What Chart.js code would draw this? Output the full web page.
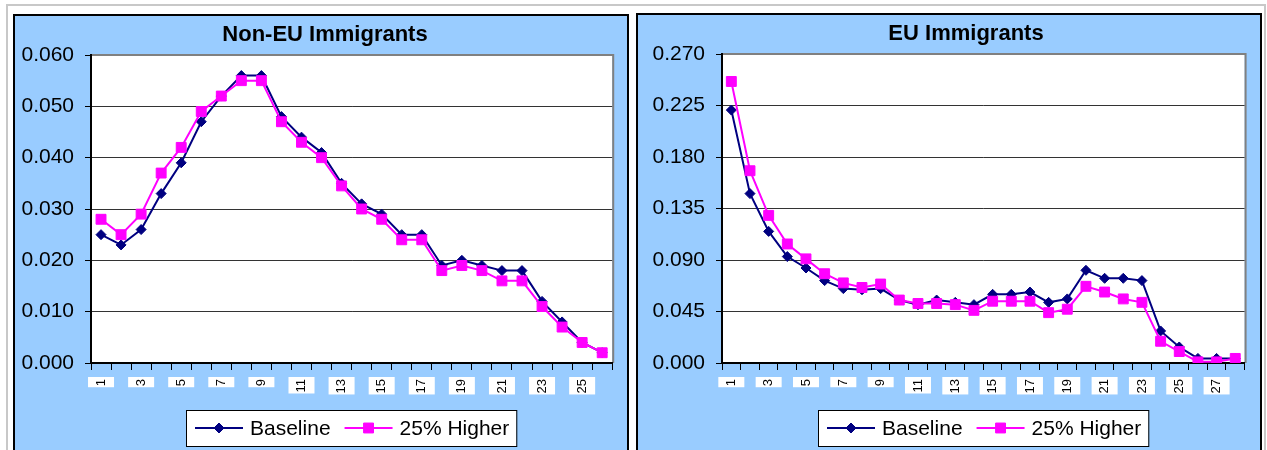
<!DOCTYPE html>
<html lang="en">
<head>
<meta charset="UTF-8" />
<title>Non-EU and EU Immigrants</title>
<script src="https://cdn.jsdelivr.net/npm/chart.js@4.4.1/dist/chart.umd.min.js"></script>
<style>
  html, body { margin: 0; padding: 0; background: #fff; overflow: hidden; }
  body { width: 1267px; height: 450px; position: relative; }
  .frame { position: absolute; left: 6px; top: 4px; width: 1260px; height: 470px;
           border: 2px solid #c8c8c8; border-bottom: none; box-sizing: border-box; }
  .panel { position: absolute; background: #99ccff; border: 2px solid #000; box-sizing: border-box; }
  #leftPanel { left: 13px; top: 14px; width: 616px; height: 452px; }
  #rightPanel { left: 636px; top: 13px; width: 626px; height: 452px; }
  canvas { display: block; }
</style>
</head>
<body>
  <div class="frame"></div>
  <div class="panel" id="leftPanel"><canvas id="nonEuChart" width="612" height="434"></canvas></div>
  <div class="panel" id="rightPanel"><canvas id="euChart" width="622" height="435"></canvas></div>

<script>
const FONT = 'Arial, "Liberation Sans", sans-serif';

// x categories
const nonEuCats = ['1','2','3','4','5','6','7','8','9','10','11','12','13',
  '14','15','16','17','18','19','20','21','22','23','24','25','26'];
const euCats = ['1','2','3','4','5','6','7','8','9','10','11','12','13','14',
  '15','16','17','18','19','20','21','22','23','24','25','26','27','28'];

const seriesNames = ['Baseline', '25% Higher'];

// Non-EU immigrants
const nonEuBaseline = [0.025, 0.023, 0.026, 0.033, 0.039, 0.047, 0.052, 0.056, 0.056, 0.048,
  0.044, 0.041, 0.035, 0.031, 0.029, 0.025, 0.025, 0.019, 0.020, 0.019,
  0.018, 0.018, 0.012, 0.008, 0.004, 0.002];
const nonEuHigher = [0.028, 0.025, 0.029, 0.037, 0.042, 0.049, 0.052, 0.055, 0.055, 0.047,
  0.043, 0.040, 0.0345, 0.030, 0.028, 0.024, 0.024, 0.018, 0.019, 0.018,
  0.016, 0.016, 0.011, 0.007, 0.004, 0.002];

// EU immigrants
const euBaseline = [0.221, 0.148, 0.115, 0.093, 0.083, 0.072, 0.065, 0.064, 0.065, 0.055,
  0.051, 0.055, 0.053, 0.051, 0.060, 0.060, 0.062, 0.053, 0.056, 0.081,
  0.074, 0.074, 0.072, 0.028, 0.014, 0.004, 0.004, 0.004];
const euHigher = [0.246, 0.168, 0.129, 0.104, 0.091, 0.078, 0.070, 0.066, 0.069, 0.055,
  0.052, 0.052, 0.051, 0.046, 0.054, 0.054, 0.054, 0.044, 0.047, 0.067,
  0.062, 0.056, 0.053, 0.019, 0.010, 0.001, 0.001, 0.004];

// y tick values
const nonEuTicks = [0, 0.01, 0.02, 0.03, 0.04, 0.05, 0.06];
const euTicks = [0, 0.045, 0.09, 0.135, 0.18, 0.225, 0.27];

// white plot area, grey top/right edge, white boxes behind the x labels,
// title centred on the panel, boxed legend
const excelLook = {
  id: 'excelLook',
  beforeDraw(chart) {
    const { ctx, chartArea: a } = chart;
    const xs = chart.scales.x;
    ctx.save();
    ctx.fillStyle = '#fff';
    ctx.fillRect(a.left, a.top, a.width, a.height);
    ctx.strokeStyle = '#808080';
    ctx.lineWidth = 2;
    ctx.beginPath();
    ctx.moveTo(a.left, a.top);
    ctx.lineTo(a.right + 1, a.top);
    ctx.lineTo(a.right + 1, a.bottom);
    ctx.stroke();
    ctx.font = '13px ' + FONT;
    xs.ticks.forEach((t, i) => {
      if (!t.label) return;
      const px = xs.getPixelForTick(i);
      const w = ctx.measureText(t.label).width;
      ctx.fillRect(px - 13, xs.top + 14, 26, w + 3);
    });
    ctx.restore();
  },
  afterDraw(chart, args, opts) {
    const { ctx, chartArea: a } = chart;
    const ds = chart.data.datasets;
    ctx.save();
    // title
    ctx.font = 'bold 22px ' + FONT;
    ctx.fillStyle = '#000';
    ctx.textAlign = 'center';
    ctx.textBaseline = 'middle';
    ctx.fillText(opts.title, opts.titleX, a.top - 20);

    // legend
    ctx.font = '21px ' + FONT;
    const widths = ds.map(d => ctx.measureText(d.label).width);
    const boxW = 9 + 48 + 7 + widths[0] + 14 + 48 + 7 + widths[1] + 7;
    const boxH = 36;
    const bx = Math.round((a.left + a.right) / 2 - boxW / 2);
    const by = Math.round(a.bottom + 47);
    ctx.fillStyle = '#fff';
    ctx.fillRect(bx, by, boxW, boxH);
    ctx.strokeStyle = '#000';
    ctx.lineWidth = 1;
    ctx.strokeRect(bx + 0.5, by + 0.5, boxW, boxH);
    const cy = by + boxH / 2;
    let cx = bx + 9;
    ds.forEach((d, i) => {
      ctx.strokeStyle = d.borderColor;
      ctx.lineWidth = d.borderWidth;
      ctx.beginPath();
      ctx.moveTo(cx, cy);
      ctx.lineTo(cx + 48, cy);
      ctx.stroke();
      ctx.fillStyle = d.pointBackgroundColor;
      ctx.strokeStyle = d.pointBorderColor;
      ctx.lineWidth = 1;
      Chart.helpers.drawPoint(ctx, { pointStyle: d.pointStyle, radius: d.pointRadius, borderWidth: 1, rotation: 0 }, cx + 24, cy);
      ctx.fillStyle = '#000';
      ctx.textAlign = 'left';
      ctx.fillText(d.label, cx + 55, cy + 1);
      cx += 55 + widths[i] + 14;
    });
    ctx.restore();
  }
};

function makeChart(id, title, titleX, cats, base, higher, yTicks, padRight, yWidth) {
  const yMax = yTicks[yTicks.length - 1];
  return new Chart(document.getElementById(id), {
    type: 'line',
    data: {
      labels: cats,
      datasets: [
        {
          label: seriesNames[0], data: base, order: 1,
          borderColor: '#000080', borderWidth: 2, tension: 0,
          pointStyle: 'rectRot', pointRadius: 5,
          pointBackgroundColor: '#000080', pointBorderColor: '#000080', pointBorderWidth: 1
        },
        {
          label: seriesNames[1], data: higher, order: 0,
          borderColor: '#ff00ff', borderWidth: 2, tension: 0,
          pointStyle: 'rect', pointRadius: 7,
          pointBackgroundColor: '#ff00ff', pointBorderColor: '#ff00ff', pointBorderWidth: 1
        }
      ]
    },
    options: {
      responsive: false,
      animation: false,
      events: [],
      layout: { padding: { left: 0, right: padRight, top: 39, bottom: 7 } },
      plugins: {
        legend: { display: false },
        tooltip: { enabled: false },
        title: { display: false },
        excelLook: { title: title, titleX: titleX }
      },
      scales: {
        x: {
          offset: true,
          grid: { offset: true, drawOnChartArea: false, tickLength: 7, tickColor: '#000', lineWidth: 1 },
          border: { color: '#000', width: 2 },
          ticks: {
            autoSkip: false, minRotation: 90, maxRotation: 90, padding: 9,
            color: '#000', font: { family: FONT, size: 13 },
            callback: (v, i) => (i % 2 === 0 ? cats[i] : '')
          },
          afterFit: s => { s.height = 80; }
        },
        y: {
          min: 0, max: yMax,
          afterBuildTicks: s => { s.ticks = yTicks.map(v => ({ value: v })); },
          grid: {
            color: c => (c.tick && c.tick.value >= yMax - 1e-9 ? 'rgba(0,0,0,0)' : '#333'),
            tickColor: '#000', tickLength: 6, lineWidth: 1
          },
          border: { color: '#000', width: 2 },
          ticks: {
            padding: 11, color: '#000', font: { family: FONT, size: 21 },
            callback: v => v.toFixed(3)
          },
          afterFit: s => { s.width = yWidth; }
        }
      }
    },
    plugins: [excelLook]
  });
}

makeChart('nonEuChart', 'Non-EU Immigrants', 310, nonEuCats, nonEuBaseline, nonEuHigher, nonEuTicks, 11, 76);
makeChart('euChart', 'EU Immigrants', 328, euCats, euBaseline, euHigher, euTicks, 8, 84);
</script>
</body>
</html>
